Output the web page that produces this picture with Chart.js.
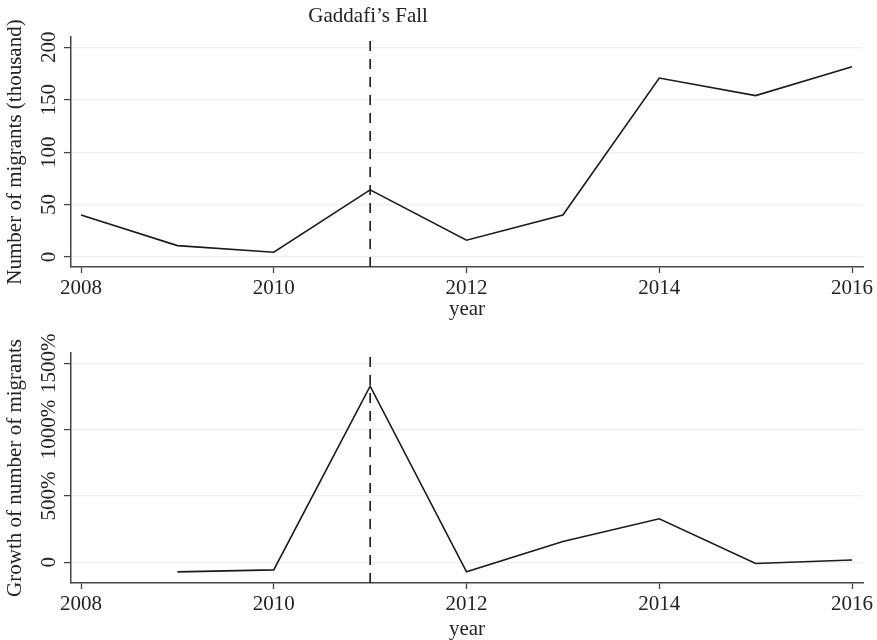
<!DOCTYPE html>
<html lang="en">
<head>
  <meta charset="UTF-8">
  <title>Migrants and Gaddafi's Fall</title>
  <script src="https://cdn.jsdelivr.net/npm/chart.js"></script>
  <style>
    body { margin: 0; background: #fff; }
    .box { position: relative; width: 877px; height: 320px; }
  </style>
</head>
<body>
  <div class="box"><canvas id="countChart"></canvas></div>
  <div class="box"><canvas id="growthChart"></canvas></div>

  <script>
    // data
    const years = [2008, 2009, 2010, 2011, 2012, 2013, 2014, 2015, 2016];
    const migrants = [40, 10.8, 4.5, 64, 16, 40, 170.7, 154, 181.5];   // thousand
    const growthYears = [2009, 2010, 2011, 2012, 2013, 2014, 2015, 2016];
    const growthPct = [-73, -58, 1328, -73, 156, 327, -10, 17];
    const yearTicks = [2008, 2010, 2012, 2014, 2016];
    const countTicks = [0, 50, 100, 150, 200];
    const growthTicks = [0, 500, 1000, 1500];
    const eventYear = 2011;
    const eventLabel = 'Gaddafi\u2019s Fall';

    const FONT = 'Liberation Serif';
    const TEXT = '#222';
    const AXIS = '#444';

    // rotated y tick labels (Stata style)
    const yLabels = {
      id: 'yLabels',
      afterDraw(chart, args, opts) {
        const s = chart.scales.y;
        const ctx = chart.ctx;
        ctx.save();
        ctx.font = '21px "' + FONT + '"';
        ctx.fillStyle = TEXT;
        ctx.textAlign = 'center';
        ctx.textBaseline = 'middle';
        s.ticks.forEach(t => {
          ctx.save();
          ctx.translate(49, s.getPixelForValue(t.value));
          ctx.rotate(-Math.PI / 2);
          ctx.fillText(t.value === 0 ? '0' : t.value + opts.suffix, 0, 0);
          ctx.restore();
        });
        ctx.restore();
      }
    };

    const eventText = {
      id: 'eventText',
      afterDraw(chart, args, opts) {
        if (!opts.show) return;
        const ctx = chart.ctx;
        ctx.save();
        ctx.font = '21px "' + FONT + '"';
        ctx.fillStyle = TEXT;
        ctx.textAlign = 'center';
        ctx.textBaseline = 'middle';
        ctx.fillText(eventLabel, chart.scales.x.getPixelForValue(eventYear) - 2, 16);
        ctx.restore();
      }
    };

    function makeChart(id, xs, ys, yMin, yMax, ticks, title, suffix, pad, xHeight, showEvent) {
      return new Chart(document.getElementById(id), {
        type: 'line',
        data: {
          datasets: [{
            data: xs.map((x, i) => ({ x: x, y: ys[i] })),
            borderColor: '#1a1a1a',
            borderWidth: 1.6,
            pointRadius: 0,
            tension: 0
          }, {
            data: [{ x: eventYear, y: yMin }, { x: eventYear, y: yMax }],
            borderColor: '#1a1a1a',
            borderWidth: 1.6,
            borderDash: [10, 8],
            pointRadius: 0
          }]
        },
        options: {
          responsive: true,
          maintainAspectRatio: false,
          animation: false,
          layout: { padding: pad },
          plugins: {
            legend: { display: false },
            tooltip: { enabled: false },
            yLabels: { suffix: suffix },
            eventText: { show: showEvent }
          },
          scales: {
            x: {
              type: 'linear',
              min: 2007.896,
              max: 2016.114,
              afterBuildTicks: s => { s.ticks = yearTicks.map(v => ({ value: v })); },
              afterFit: s => { s.height = xHeight; },
              ticks: {
                font: { family: FONT, size: 21 },
                color: TEXT,
                padding: 3,
                maxRotation: 0,
                autoSkip: false,
                callback: v => String(v)
              },
              grid: {
                drawOnChartArea: false,
                drawTicks: true,
                tickLength: 6,
                tickColor: AXIS,
                tickWidth: 1.3
              },
              border: { display: true, color: AXIS, width: 1.5 },
              title: {
                display: true,
                text: 'year',
                color: TEXT,
                font: { family: FONT, size: 21, lineHeight: 1 },
                padding: { top: 0, bottom: 0.5 }
              }
            },
            y: {
              min: yMin,
              max: yMax,
              afterBuildTicks: s => { s.ticks = ticks.map(v => ({ value: v })); },
              afterFit: s => { s.width = 71; },
              ticks: { display: false },
              grid: {
                color: '#f0f0f0',
                lineWidth: 1.2,
                drawTicks: true,
                tickLength: 7,
                tickColor: AXIS,
                tickWidth: 1.3
              },
              border: { display: true, color: AXIS, width: 1.5 },
              title: {
                display: true,
                text: title,
                color: TEXT,
                font: { family: FONT, size: 21, lineHeight: 1 },
                padding: { top: 4.5, bottom: 0 }
              }
            }
          }
        },
        plugins: [yLabels, eventText]
      });
    }

    makeChart('countChart', years, migrants, -9.6, 209.9, countTicks,
      'Number of migrants (thousand)', '', { left: 0, right: 14, top: 37, bottom: 0 }, 53, true);
    makeChart('growthChart', growthYears, growthPct, -157, 1578, growthTicks,
      'Growth of number of migrants', '%', { left: 0, right: 14, top: 33, bottom: 0 }, 57, false);
  </script>
</body>
</html>
